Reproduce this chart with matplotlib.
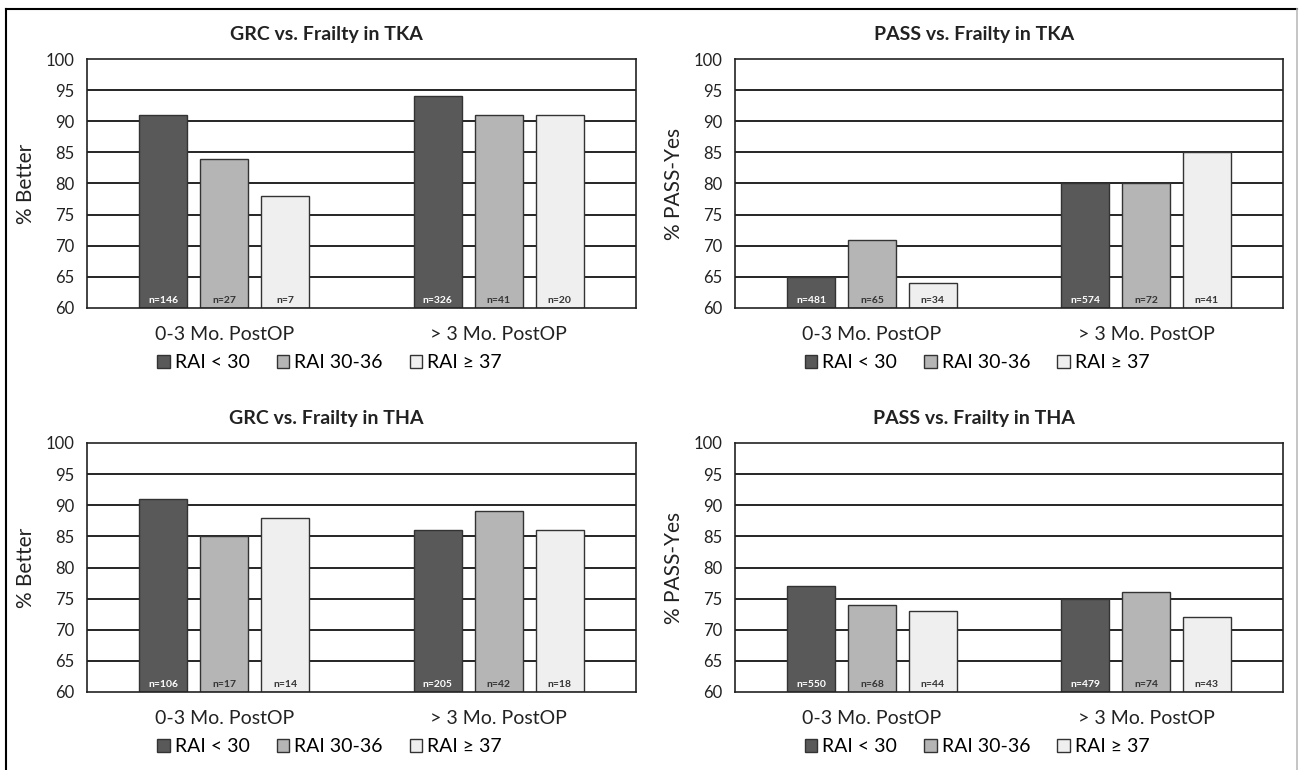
import matplotlib.pyplot as plt
from matplotlib.patches import Patch
from matplotlib.lines import Line2D

plt.rcParams["font.family"] = ["Lato", "DejaVu Sans"]

categories = ["0-3 Mo. PostOP", "> 3 Mo. PostOP"]
series_names = ["RAI < 30", "RAI 30-36", "RAI \u2265 37"]
colors = ["#595959", "#b5b5b5", "#efefef"]
n_colors = ["white", "#333333", "#333333"]

titles = ["GRC vs. Frailty in TKA", "PASS vs. Frailty in TKA",
          "GRC vs. Frailty in THA", "PASS vs. Frailty in THA"]
ylabels = ["% Better", "% PASS-Yes", "% Better", "% PASS-Yes"]

# values per panel: [series][category]
grc_tka = [[91, 94], [84, 91], [78, 91]]
pass_tka = [[65, 80], [71, 80], [64, 85]]
grc_tha = [[91, 86], [85, 89], [88, 86]]
pass_tha = [[77, 75], [74, 76], [73, 72]]

n_grc_tka = [[146, 326], [27, 41], [7, 20]]
n_pass_tka = [[481, 574], [65, 72], [34, 41]]
n_grc_tha = [[106, 205], [17, 42], [14, 18]]
n_pass_tha = [[550, 479], [68, 74], [44, 43]]

panels = [(grc_tka, n_grc_tka), (pass_tka, n_pass_tka),
          (grc_tha, n_grc_tha), (pass_tha, n_pass_tha)]

W, H = 1299, 770
fig = plt.figure(figsize=(W / 100, H / 100), dpi=100)

# axes boxes in pixels: left, top, right, bottom
boxes = [(87, 59, 636, 308), (735, 59, 1283, 308),
         (87, 443, 636, 692), (735, 443, 1283, 692)]

bar_w = 0.175
step = 0.222

for i, ((vals, ns), box) in enumerate(zip(panels, boxes)):
    l, t, r, b = box
    ax = fig.add_axes([l / W, 1 - b / H, (r - l) / W, (b - t) / H])
    ax.set_xlim(0, 2)
    ax.set_ylim(60, 100)
    ax.set_yticks(range(60, 101, 5))
    ax.set_xticks([])
    ax.tick_params(axis="y", length=0, labelsize=12, pad=9, labelcolor="#222222")
    for y in range(65, 100, 5):
        ax.axhline(y, color="black", lw=1.2, zorder=1)
    for sp in ax.spines.values():
        sp.set_color("#222222")
        sp.set_linewidth(1.2)
    for s in range(3):
        for c in range(2):
            x = c + 0.5 + (s - 1) * step
            ax.bar(x, vals[s][c] - 60, bottom=60, width=bar_w, color=colors[s],
                   edgecolor="#333333", lw=1.0, zorder=2)
            ax.text(x, 60.5, "n=%d" % ns[s][c], ha="center", va="bottom",
                    fontsize=7.5, fontweight="bold", color=n_colors[s], zorder=3)
    for c in range(2):
        ax.text(c + 0.5, -0.105, categories[c], transform=ax.get_xaxis_transform(),
                ha="center", va="center", fontsize=14, color="#222222")
    # chart title is centred on the whole chart area, a bit left of the plot centre
    ax.set_title(titles[i], x=0.5 - 35 / (r - l), fontsize=14, fontweight="bold",
                 pad=14, color="#222222")
    ax.set_ylabel(ylabels[i], fontsize=15, labelpad=7, color="#222222")

    handles = [Patch(facecolor=colors[s], edgecolor="#333333", lw=1.0) for s in range(3)]
    lx = (l + r) / 2 - 32
    ly = b + 55
    fig.legend(handles, series_names, loc="center", ncol=3,
               bbox_to_anchor=(lx / W, 1 - ly / H), frameon=False,
               fontsize=14, handlelength=0.65, handleheight=0.65,
               handletextpad=0.25, columnspacing=1.4)

# outer frame
fig.add_artist(Line2D([6 / W, 1297 / W], [1 - 9 / H, 1 - 9 / H], color="black", lw=1.5))
fig.add_artist(Line2D([6 / W, 6 / W], [0, 1 - 9 / H], color="black", lw=1.5))
fig.add_artist(Line2D([1297 / W, 1297 / W], [0, 1 - 9 / H], color="#bbbbbb", lw=1.2))

fig.savefig("out.png", dpi=100)
